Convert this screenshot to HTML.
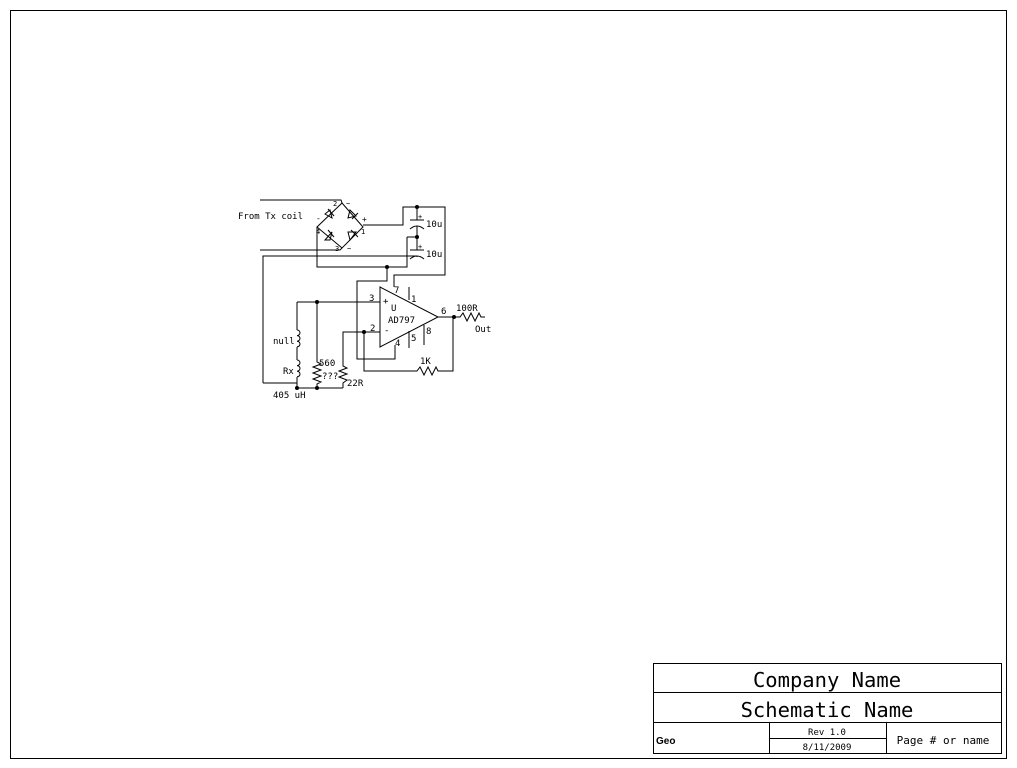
<!DOCTYPE html>
<html><head><style>
html,body{margin:0;padding:0;background:#fff;}
svg{display:block;}
text{font-family:"DejaVu Sans Mono","Liberation Mono",monospace;fill:#000;}
</style></head><body>
<svg width="1017" height="768" viewBox="0 0 1017 768" xmlns="http://www.w3.org/2000/svg">
<rect x="10.5" y="10.5" width="996" height="748" fill="none" stroke="#000" stroke-width="1"/>
<!-- title block -->
<g fill="none" stroke="#000" stroke-width="1">
<rect x="653.5" y="663.5" width="348" height="90"/>
<line x1="653" y1="692.5" x2="1001" y2="692.5"/>
<line x1="653" y1="722.5" x2="1001" y2="722.5"/>
<line x1="769.5" y1="722" x2="769.5" y2="753"/>
<line x1="886.5" y1="722" x2="886.5" y2="753"/>
<line x1="769" y1="738.5" x2="886" y2="738.5"/>
</g>
<text x="827" y="687" font-size="20.5" text-anchor="middle">Company Name</text>
<text x="827" y="717" font-size="20.5" text-anchor="middle">Schematic Name</text>
<text x="656" y="744" font-size="10" font-weight="bold" style="font-family:'Liberation Sans',sans-serif">Geo</text>
<text x="827" y="735" font-size="9" text-anchor="middle">Rev 1.0</text>
<text x="827" y="750" font-size="9" text-anchor="middle">8/11/2009</text>
<text x="943" y="744" font-size="11" text-anchor="middle">Page # or name</text>

<g fill="none" stroke="#000" stroke-width="1">
<polyline points="260,200 341,200 342,203"/>
<polyline points="260,250 340,250 342,248"/>
<polygon points="342,203 317,227 342,248 363,227"/>
<polyline points="363,225 403,225 403,207 445,207 445,275 394,275 394,287"/>
<polyline points="417,207 417,220"/>
<line x1="410" y1="220" x2="424" y2="220"/>
<path d="M410,229 Q417,223 424,229"/>
<polyline points="417,226 417,237"/>
<polyline points="407,237 417,237 417,250"/>
<line x1="410" y1="250" x2="424" y2="250"/>
<path d="M410,259 Q417,253 424,259"/>
<polyline points="417,256 417,257"/>
<polyline points="263,383 263,256 417,256"/>
<polyline points="317,227 317,267 407,267 407,237"/>
<polyline points="387,267 387,281 357,281 357,359 395,359 395,345"/>
<polygon points="380,287 380,347 438,317"/>
<line x1="409" y1="287" x2="409" y2="300"/>
<line x1="409" y1="331" x2="409" y2="348"/>
<line x1="424" y1="325" x2="424" y2="345"/>
<polyline points="297,302 380,302"/>
<polyline points="343,363 343,332 380,332"/>
<polyline points="364,332 364,371 417,371 420,367 424,375 428,367 432,375 436,367 438,371 453,371 453,317 438,317"/>
<polyline points="453,317 460,317 463,313 467,321 471,313 475,321 479,313 481,317 485,317"/>
<polyline points="343,363 343,366 347,368 339,371 347,374 339,377 347,380 343,383 343,388"/>
<polyline points="317,302 317,362 321,364 313,367 321,370 313,373 321,376 313,379 321,382 317,384 317,388"/>
<polyline points="297,302 297,330"/>
<path d="M297,330 a3,2.8 0 1 1 0,5.6 a3,2.8 0 1 1 0,5.6 a3,2.8 0 1 1 0,5.6"/>
<line x1="297" y1="347" x2="297" y2="360"/>
<path d="M297,360 a3,2.8 0 1 1 0,5.6 a3,2.8 0 1 1 0,5.6 a3,2.8 0 1 1 0,5.6"/>
<polyline points="297,377 297,388"/>
<polyline points="263,383 297,383"/>
<line x1="297" y1="388" x2="343" y2="388"/>
</g>
<g fill="none" stroke="#000" stroke-width="1">
<polygon points="325,214 332,218 330,210"/><line x1="328" y1="209" x2="334" y2="216"/>
<polygon points="350,210 356,216 348,218"/><line x1="352" y1="219" x2="358" y2="213"/>
<polygon points="325,240 332,232 330,240"/><line x1="328" y1="230" x2="334" y2="237"/>
<polygon points="350,240 356,232 348,232"/><line x1="351" y1="230" x2="358" y2="237"/>
</g>
<g fill="#000">
<circle cx="417" cy="207" r="2"/><circle cx="417" cy="237" r="2"/><circle cx="387" cy="267" r="2"/>
<circle cx="317" cy="302" r="2"/><circle cx="364" cy="332" r="2"/><circle cx="454" cy="317" r="2"/>
<circle cx="297" cy="388" r="2"/><circle cx="317" cy="388" r="2"/>
</g>
<g font-size="9">
<text x="238" y="219">From Tx coil</text>
<text x="333" y="206" font-size="7">2</text><text x="346" y="206" font-size="7">~</text>
<text x="316" y="221" font-size="8">-</text><text x="362" y="222" font-size="8">+</text>
<text x="316" y="234" font-size="7">4</text><text x="361" y="234" font-size="7">1</text>
<text x="335" y="251" font-size="7">3</text><text x="347" y="251" font-size="7">~</text>
<text x="418" y="219" font-size="7">+</text><text x="418" y="249" font-size="7">+</text>
<text x="426" y="227">10u</text><text x="426" y="257">10u</text>
<text x="369" y="301">3</text><text x="370" y="331">2</text>
<text x="394" y="293">7</text><text x="411" y="302">1</text>
<text x="441" y="314">6</text><text x="395" y="346">4</text>
<text x="411" y="341">5</text><text x="426" y="334">8</text>
<text x="383" y="304">+</text><text x="384" y="333">-</text>
<text x="391" y="311">U</text><text x="388" y="323">AD797</text>
<text x="456" y="311">100R</text><text x="475" y="332">Out</text>
<text x="420" y="364">1K</text>
<text x="273" y="344">null</text><text x="283" y="374">Rx</text>
<text x="319" y="366">560</text><text x="322" y="379">???</text>
<text x="347" y="386">22R</text>
<text x="273" y="398">405 uH</text>
</g>
</svg>
</body></html>
